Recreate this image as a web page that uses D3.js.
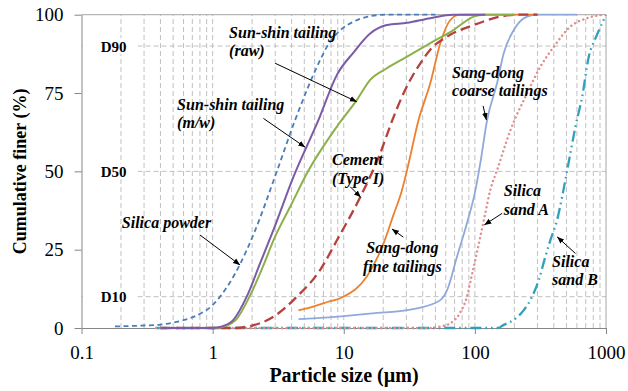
<!DOCTYPE html>
<html><head><meta charset="utf-8">
<script src="https://cdn.jsdelivr.net/npm/d3@7"></script>
<style>body{margin:0;background:#fff}svg{display:block}text{font-family:"Liberation Serif","Times New Roman",serif}</style>
</head><body><svg id="c" width="628" height="391"></svg>
<script>
// ---- data (particle size µm, cumulative finer %) ----
const silicaPowder = [[0.18,0.5],[0.3,0.8],[0.4,1.1],[0.6,2.5],[0.8,4.5],[1.0,7.3],[1.14,10],[1.62,20.4],[2.07,30.3],[3.09,50],[4.26,66.4],[6.6,85.5],[7.45,89.8],[9.4,95],[11.9,97.8],[15,99.3],[21,100],[50,100]];
const sunshinMW = [[0.4,0],[1.0,0],[1.2,0.6],[1.44,2.6],[1.82,10],[2.3,20.6],[2.91,31.3],[4.14,48.3],[6.42,66.4],[8.87,80.8],[11.9,88],[15.9,94],[21.3,96.7],[30.4,97.4],[45.7,98.9],[68,100],[120,100]];
const sunshinRaw = [[0.4,0],[1.05,0],[1.25,0.6],[1.5,2.5],[1.91,10],[2.44,20],[2.91,28],[4,39.6],[5.24,49.4],[8.87,64.3],[12.6,72.8],[15.9,79.2],[21.3,82.9],[30.4,86.6],[45.7,90.9],[68.6,95.1],[98,99.4],[115,100],[200,100]];
const cement = [[0.4,0],[1.5,0],[1.82,0.4],[2.91,3.6],[4.39,10],[6.6,18.5],[8.87,28],[13.4,41.9],[19,55.8],[23.3,66],[29.4,76],[38.4,84.5],[46,89],[61.4,93],[98,96.7],[157,99.4],[222,100],[300,100]];
const sangdongFine = [[4.52,5.6],[6,7],[7.5,8.3],[9.97,10],[15,16.4],[20.1,27],[23.8,35.8],[27.8,44],[30.4,50.4],[37.2,66.4],[45.7,78.1],[54.5,90.9],[65,98.3],[76.7,100],[300,100]];
const sangdongCoarse = [[4.52,2.8],[10,3.8],[15,4.5],[36.2,6.3],[54.5,8.9],[61.4,12.1],[73.1,22.8],[87,33.4],[101,44],[110,52.6],[124,66.4],[147.6,78.1],[166,87.7],[198,95.1],[250,99.4],[300,100],[600,100]];
const silicaSandA = [[0.37,0],[45,0],[55,0.5],[65,1.5],[76.7,4.7],[87,10],[95,17],[110,29.1],[120,36.6],[131,44],[147.6,50.4],[187,63.2],[250,74.9],[316,83.4],[400,89.8],[535,96.2],[718,98.9],[962,100]];
const silicaSandB = [[0.37,0],[150,0],[166,1],[198,2.6],[236,5.7],[273,10],[307,15.3],[345,22.8],[377,28.1],[424,34.5],[463,41.9],[506,50.4],[535,55.8],[585,64.3],[658,73.8],[739,86.6],[832,92.5],[935,97.3],[1000,100]];

const xTicks = [0.1,1,10,100,1000];
const yTicks = [0,25,50,75,100];
const dLevels = [10,50,90];
const dLabels = ["D10","D50","D90"];

const series = [
  {name:"Silica sand B", data:silicaSandB, color:"#31a1bb", width:2.3, dash:"11,4,1.6,4,1.6,4"},
  {name:"Silica sand A", data:silicaSandA, color:"#e08f8d", width:2.4, dash:"0.1,4.4", cap:"round"},
  {name:"Sang-dong coarse", data:sangdongCoarse, color:"#8eaadb", width:1.8},
  {name:"Sang-dong fine", data:sangdongFine, color:"#ee7f2d", width:1.8},
  {name:"Cement", data:cement, color:"#b5413e", width:2.3, dash:"10,5"},
  {name:"Sun-shin raw", data:sunshinRaw, color:"#8db04b", width:2},
  {name:"Sun-shin m/w", data:sunshinMW, color:"#7b5aa6", width:2},
  {name:"Silica powder", data:silicaPowder, color:"#4a7ebb", width:1.8, dash:"5,3.5"}
];

// labels: [lines], x, y (baseline of first line), anchor ; arrows: [x1,y1,x2,y2] in data units (tail -> head)
const labels = [
  {lines:["Sun-shin tailing","(raw)"], x:1.336, y:92.6, anchor:"start"},
  {lines:["Sun-shin tailing","(m/w)"], x:0.536, y:69.6, anchor:"start"},
  {lines:["Silica powder"], x:0.203, y:31.9, anchor:"start"},
  {lines:["Cement","(Type I)"], x:8.13, y:52.0, anchor:"start"},
  {lines:["Sang-dong","fine tailings"], x:28.0, y:23.8, anchor:"middle"},
  {lines:["Sang-dong","coarse tailings"], x:67, y:79.8, anchor:"start"},
  {lines:["Silica","sand A"], x:166, y:42.1, anchor:"start"},
  {lines:["Silica","sand B"], x:388, y:19.6, anchor:"start"}
];
const arrows = [
  [3.0,84.5, 12.6,72.2],
  [2.44,66.9, 5.08,57.7],
  [0.80,29.7, 1.62,20.1],
  [11.2,45.1, 13.5,41.7],
  [28.5,29.0, 23.3,31.6],
  [115.5,70.9, 122.4,66.4],
  [161.4,36.6, 118,32.9],
  [585,23.8, 424,29.1]
];

// ---- chart ----
const svg = d3.select("#c");
const x = d3.scaleLog().domain([0.1,1000]).range([81.5,606]);
const y = d3.scaleLinear().domain([0,100]).range([328,14.7]);
const gridCol = "#c0c0c0", axisCol = "#868686";

// vertical grid
const minor = [];
for (let dec=0.1; dec<1000; dec*=10) for (let k=1;k<=9;k++){ const v=+(dec*k).toPrecision(3); if (v>0.1 && v<1000) minor.push(v); }
svg.append("g").selectAll("line").data(minor).join("line")
  .attr("x1",d=>x(d)).attr("x2",d=>x(d)).attr("y1",y(0)).attr("y2",y(100))
  .attr("stroke",gridCol).attr("stroke-width",1).attr("stroke-dasharray","5,3");
// horizontal D lines
svg.append("g").selectAll("line").data(dLevels).join("line")
  .attr("x1",x(0.1)).attr("x2",x(1000)).attr("y1",d=>y(d)).attr("y2",d=>y(d))
  .attr("stroke",gridCol).attr("stroke-width",1).attr("stroke-dasharray","5,3");
// border top/right
svg.append("line").attr("x1",x(0.1)).attr("x2",x(1000)).attr("y1",y(100)).attr("y2",y(100)).attr("stroke","#a6a6a6");
svg.append("line").attr("x1",x(1000)).attr("x2",x(1000)).attr("y1",y(0)).attr("y2",y(100)).attr("stroke","#a6a6a6");

// D labels with white background
const dg = svg.append("g");
dLevels.forEach((v,i)=>{
  dg.append("rect").attr("x",x(0.1)+1).attr("y",y(v)-8).attr("width",55).attr("height",16).attr("fill","#fff");
  dg.append("text").attr("x",x(0.14)).attr("y",y(v)+5.5).attr("font-size",15).attr("font-weight","bold").text(dLabels[i]);
});

// axes
const ax = svg.append("g").attr("transform",`translate(0,${y(0)})`)
  .call(d3.axisBottom(x).tickValues(xTicks).tickFormat(d=>String(d)).tickSizeInner(6).tickSizeOuter(0).tickPadding(12));
const ay = svg.append("g").attr("transform",`translate(${x(0.1)},0)`)
  .call(d3.axisLeft(y).tickValues(yTicks).tickSizeInner(7).tickSizeOuter(0).tickPadding(11));
[ax,ay].forEach(g=>{
  g.select(".domain").attr("stroke",axisCol);
  g.selectAll(".tick line").attr("stroke",axisCol);
  g.selectAll(".tick text").attr("font-size",19).attr("fill","#000").attr("font-family","Liberation Serif");
});

// series
const line = d3.line().x(d=>x(d[0])).y(d=>y(d[1])).curve(d3.curveMonotoneX);
svg.append("g").selectAll("path").data(series).join("path")
  .attr("d",s=>line(s.data)).attr("fill","none")
  .attr("stroke",s=>s.color).attr("stroke-width",s=>s.width)
  .attr("stroke-dasharray",s=>s.dash||null).attr("stroke-linecap",s=>s.cap||"butt");

// arrows
svg.append("defs").append("marker").attr("id","ah").attr("viewBox","0 0 10 10")
  .attr("refX",10).attr("refY",5).attr("markerWidth",7).attr("markerHeight",7).attr("orient","auto")
  .attr("markerUnits","userSpaceOnUse")
  .append("path").attr("d","M0,1 L10,5 L0,9 Z").attr("fill","#000");
svg.append("g").selectAll("line").data(arrows).join("line")
  .attr("x1",d=>x(d[0])).attr("y1",d=>y(d[1])).attr("x2",d=>x(d[2])).attr("y2",d=>y(d[3]))
  .attr("stroke","#000").attr("stroke-width",1).attr("marker-end","url(#ah)");

// labels
const lg = svg.append("g");
labels.forEach(l=>{
  const t = lg.append("text").attr("font-size",16).attr("font-weight","bold").attr("font-style","italic")
    .attr("text-anchor",l.anchor);
  l.lines.forEach((s,i)=>t.append("tspan").attr("x",x(l.x)).attr("y",y(l.y)+i*18.5).text(s));
});

// axis titles
svg.append("text").attr("x",344).attr("y",382).attr("text-anchor","middle")
  .attr("font-size",20).attr("font-weight","bold").text("Particle size (µm)");
svg.append("text").attr("transform",`translate(26,${(y(0)+y(100))/2}) rotate(-90)`).attr("text-anchor","middle")
  .attr("font-size",18).attr("font-weight","bold").text("Cumulative finer (%)");
</script></body></html>
